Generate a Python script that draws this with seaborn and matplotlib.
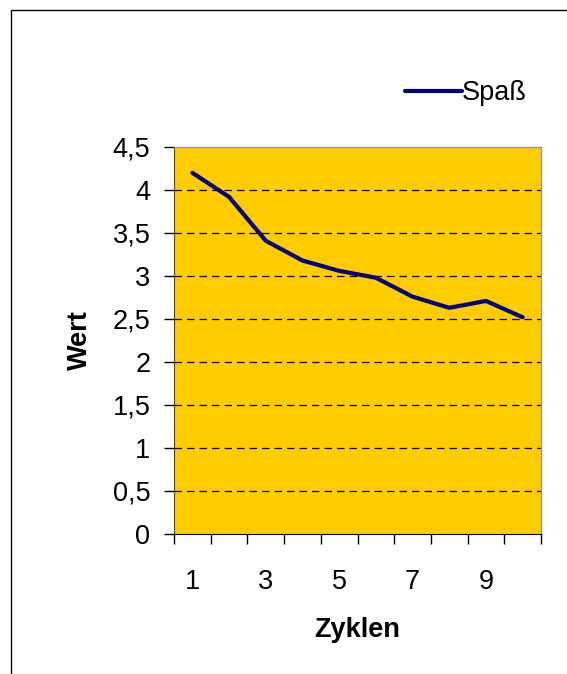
import matplotlib
matplotlib.use("Agg")
import matplotlib.pyplot as plt
import matplotlib.ticker as mticker
from matplotlib.patches import Rectangle
import pandas as pd
import seaborn as sns

# Data
zyklen = [1, 2, 3, 4, 5, 6, 7, 8, 9, 10]
spass = [4.20, 3.92, 3.41, 3.18, 3.06, 2.98, 2.76, 2.63, 2.71, 2.52]
y_ticks = [0, 0.5, 1, 1.5, 2, 2.5, 3, 3.5, 4, 4.5]
x_labels = [1, 3, 5, 7, 9]

df = pd.DataFrame({"Zyklen": zyklen, "Wert": spass})

sns.set_style("white")
plt.rcParams["font.family"] = ["Liberation Sans", "DejaVu Sans"]
plt.rcParams["text.color"] = "black"
plt.rcParams["axes.labelcolor"] = "black"
plt.rcParams["xtick.color"] = "black"
plt.rcParams["ytick.color"] = "black"

W, H = 567, 674
fig = plt.figure(figsize=(W / 100, H / 100), dpi=100)
fig.patch.set_facecolor("white")

# outer chart frame (right/bottom run off the picture)
fig.add_artist(Rectangle((11 / W, -0.05), 1.2, 1 - 10 / H + 0.05,
                         transform=fig.transFigure, fill=False,
                         edgecolor="black", linewidth=1))

ax = fig.add_axes([174 / W, 1 - 534 / H, 367 / W, 387 / H])
ax.set_facecolor("#FFCC00")

sns.lineplot(data=df, x="Zyklen", y="Wert", ax=ax, color="#000080",
             linewidth=3, label="Spaß")

ax.set_xlim(0.5, 10.5)
ax.set_ylim(0, 4.5)

# y axis
ax.set_yticks(y_ticks)
ax.yaxis.set_major_formatter(mticker.FuncFormatter(
    lambda v, p: f"{v:g}".replace(".", ",")))
for y in y_ticks[1:-1]:
    ax.axhline(y, color="black", linestyle=(0, (6, 4)), linewidth=0.9, zorder=1)

# x axis: boundary ticks, labels at odd cycles
ax.set_xticks([x - 0.5 for x in zyklen] + [10.5], minor=True)
ax.set_xticks(x_labels)
ax.tick_params(axis="x", which="major", length=0, pad=25, labelsize=19.5)
ax.tick_params(axis="x", which="minor", length=7, width=1, color="black",
               direction="out", bottom=True)
ax.tick_params(axis="y", length=7, width=1, color="black", direction="out",
               left=True, pad=10, labelsize=19.5)

for side in ["top", "right"]:
    ax.spines[side].set_color("#999999")
    ax.spines[side].set_linewidth(1)
ax.spines["left"].set_color("#444444")
ax.spines["bottom"].set_color("black")

ax.set_xlabel("Zyklen", fontsize=19.5, fontweight="bold", labelpad=16)
ax.set_ylabel("Wert", fontsize=19.5, fontweight="bold", labelpad=14)

ax.legend(loc="center left", bbox_to_anchor=(405 / W, 1 - 93 / H),
          bbox_transform=fig.transFigure, frameon=False, fontsize=19.5,
          handlelength=2.1, handletextpad=0.0, borderpad=0, borderaxespad=0)

fig.savefig("out.png", dpi=100)
